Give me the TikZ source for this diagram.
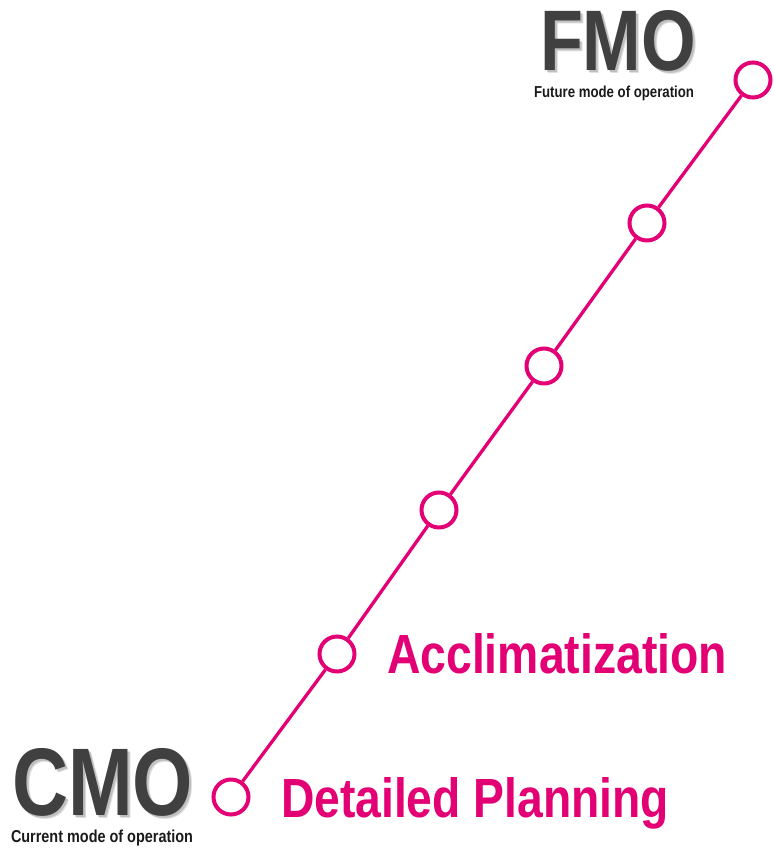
\documentclass[tikz,border=0pt]{standalone}
\usepackage{fontspec}
\setmainfont{Liberation Sans}
\definecolor{tmag}{HTML}{E20074}
\definecolor{dgray}{HTML}{404040}
\definecolor{nblack}{HTML}{1A1A1A}
\tikzset{
  stage/.style={circle, draw=tmag, line width=4pt, fill=white, minimum size=35pt, inner sep=0pt},
  link/.style={draw=tmag, line width=3.3pt},
  txt/.style={anchor=base west, inner sep=0pt, outer sep=0pt},
  shadowtxt/.style={anchor=base west, inner sep=0pt, outer sep=0pt, text=black},
}
\begin{document}
\begin{tikzpicture}[x=1pt,y=-1pt]
\useasboundingbox (0,0) rectangle (774,849);
% stages
\node[stage] (s1) at (231,797) {};
\node[stage] (s2) at (337,654) {};
\node[stage] (s3) at (439,510) {};
\node[stage] (s4) at (544,366) {};
\node[stage] (s5) at (647,223) {};
\node[stage] (s6) at (753,80) {};
\draw[link] (s1) -- (s2);
\draw[link] (s2) -- (s3);
\draw[link] (s3) -- (s4);
\draw[link] (s4) -- (s5);
\draw[link] (s5) -- (s6);
% labels
\node[txt, text=tmag] (acc) at (387,673) {\resizebox{340pt}{40pt}{\bfseries Acclimatization}};
\node[txt, text=tmag] (dp) at (281,817) {\resizebox{388pt}{40pt}{\bfseries Detailed Planning}};
% CMO with soft shadow
\node[shadowtxt, opacity=0.12] (cmosh2) at (15,818) {\resizebox{181pt}{67pt}{\bfseries CMO}};
\node[shadowtxt, opacity=0.15] (cmosh1) at (14,817) {\resizebox{181pt}{67pt}{\bfseries CMO}};
\node[txt, text=dgray] (cmo) at (12,815) {\resizebox{181pt}{67pt}{\bfseries CMO}};
\node[txt, text=nblack] (cmot) at (11,842) {\resizebox{182pt}{12.5pt}{\bfseries Current mode of operation}};
% FMO with soft shadow
\node[shadowtxt, opacity=0.12] (fmosh2) at (543,73) {\resizebox{156pt}{60pt}{\bfseries FMO}};
\node[shadowtxt, opacity=0.15] (fmosh1) at (542,72) {\resizebox{156pt}{60pt}{\bfseries FMO}};
\node[txt, text=dgray] (fmo) at (540,70) {\resizebox{156pt}{60pt}{\bfseries FMO}};
\node[txt, text=nblack] (fmot) at (534,97) {\resizebox{160pt}{11.5pt}{\bfseries Future mode of operation}};
\end{tikzpicture}
\end{document}
